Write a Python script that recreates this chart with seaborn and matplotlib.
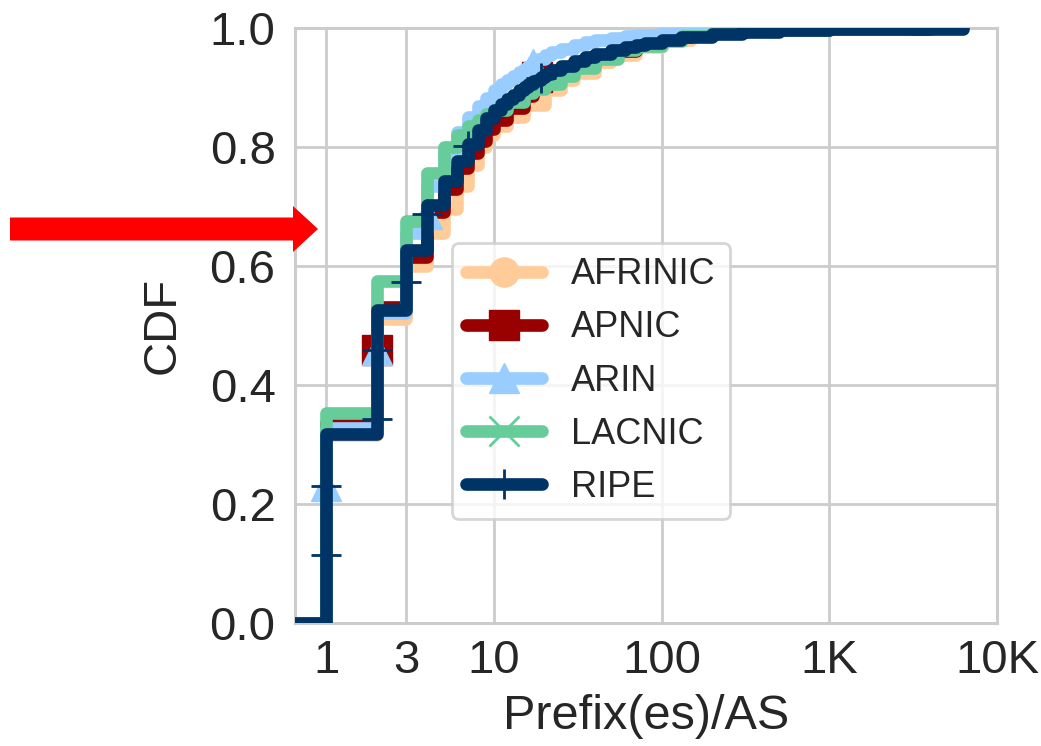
import matplotlib
matplotlib.use("Agg")
import matplotlib.pyplot as plt
from matplotlib.lines import Line2D
from matplotlib.patches import FancyArrow
import seaborn as sns

# Regions (legend order) and their styles
regions = ["AFRINIC", "APNIC", "ARIN", "LACNIC", "RIPE"]
colors = ["#ffcc99", "#990000", "#99ccff", "#66cc99", "#003366"]
markers = ["o", "s", "^", "x", "+"]

# Step CDFs of prefixes per AS: breakpoints (value, cumulative fraction)
afrinic_x = [0.5, 1, 2, 3, 4, 5, 6, 7, 8, 9, 10, 12, 15, 20, 25, 30, 40, 50, 70, 100, 150, 200, 300, 500, 1000, 2000]
afrinic_y = [0, 0.315, 0.51, 0.60, 0.655, 0.695, 0.735, 0.77, 0.80, 0.82, 0.835, 0.85, 0.87, 0.895, 0.912,
             0.925, 0.942, 0.955, 0.968, 0.98, 0.988, 0.992, 0.995, 0.997, 0.999, 1.0]

apnic_x = [0.5, 1, 2, 3, 4, 5, 6, 7, 8, 9, 10, 12, 15, 17, 18, 20, 25, 30, 40, 50, 70, 100, 150, 200, 300, 500,
           1000, 4000]
apnic_y = [0, 0.335, 0.53, 0.615, 0.69, 0.73, 0.765, 0.79, 0.81, 0.83, 0.845, 0.865, 0.885, 0.90, 0.92, 0.925,
           0.933, 0.94, 0.952, 0.962, 0.974, 0.985, 0.99, 0.993, 0.995, 0.997, 0.999, 1.0]

arin_x = [0.5, 1, 2, 3, 4, 5, 6, 7, 8, 9, 10, 11, 12, 13, 14, 15, 16, 17, 18, 20, 22, 25, 30, 35, 40, 50, 60, 70,
          100, 150, 200, 300, 500, 1000, 2000, 5000]
arin_y = [0, 0.328, 0.52, 0.655, 0.735, 0.79, 0.825, 0.85, 0.868, 0.883, 0.895, 0.905, 0.913, 0.92, 0.926, 0.931,
          0.936, 0.944, 0.948, 0.955, 0.96, 0.965, 0.972, 0.976, 0.979, 0.983, 0.986, 0.988, 0.992, 0.994, 0.996,
          0.997, 0.998, 0.999, 0.9995, 1.0]

lacnic_x = [0.5, 1, 2, 3, 4, 5, 6, 7, 8, 9, 10, 12, 15, 17, 20, 25, 30, 40, 55, 70, 100, 133, 200, 300, 500, 1000, 3000]
lacnic_y = [0, 0.353, 0.575, 0.675, 0.756, 0.80, 0.82, 0.835, 0.845, 0.855, 0.862, 0.875, 0.89, 0.897, 0.905, 0.92,
            0.933, 0.948, 0.963, 0.97, 0.978, 0.986, 0.991, 0.995, 0.997, 0.999, 1.0]

ripe_x = [0.5, 1, 2, 3, 4, 5, 6, 7, 8, 9, 10, 11, 12, 13, 14, 15, 16, 17, 18, 19, 20, 22, 25, 30, 35, 40, 50, 60,
          70, 80, 100, 130, 200, 300, 500, 1000, 2000, 6300]
ripe_y = [0, 0.318, 0.525, 0.627, 0.703, 0.743, 0.776, 0.805, 0.828, 0.848, 0.862, 0.872, 0.880, 0.888, 0.895,
          0.900, 0.905, 0.910, 0.913, 0.918, 0.923, 0.930, 0.936, 0.945, 0.951, 0.956, 0.963, 0.968, 0.972, 0.975,
          0.980, 0.985, 0.990, 0.994, 0.996, 0.998, 0.999, 1.0]

# Marker positions along each curve
afrinic_mx, afrinic_my = [], []
apnic_mx, apnic_my = [2, 18], [0.459, 0.918]
arin_mx, arin_my = [1, 2, 4, 17], [0.229, 0.459, 0.688, 0.94]
lacnic_mx, lacnic_my = [], []
ripe_mx = [1, 1, 2, 2, 3, 4, 7, 19]
ripe_my = [0.114, 0.229, 0.343, 0.459, 0.573, 0.688, 0.802, 0.916]

x_ticks = [1, 3, 10, 100, 1000, 10000]
x_ticklabels = ["1", "3", "10", "100", "1K", "10K"]
y_ticks = [0.0, 0.2, 0.4, 0.6, 0.8, 1.0]

curves = [
    (afrinic_x, afrinic_y, afrinic_mx, afrinic_my),
    (apnic_x, apnic_y, apnic_mx, apnic_my),
    (arin_x, arin_y, arin_mx, arin_my),
    (lacnic_x, lacnic_y, lacnic_mx, lacnic_my),
    (ripe_x, ripe_y, ripe_mx, ripe_my),
]

sns.set_theme(style="whitegrid")
plt.rcParams["font.family"] = ["Liberation Sans", "DejaVu Sans"]
text_color = "#262626"
grid_color = "#cccccc"

LW = 9.1
MS = 21

fig = plt.figure(figsize=(10.41, 7.46), dpi=100)
ax = fig.add_axes([0.2834, 0.1653, 0.6744, 0.7972])

for i, (name, color, mk, (xs, ys, mx, my)) in enumerate(zip(regions, colors, markers, curves)):
    z = 3 + i
    sns.lineplot(x=xs, y=ys, ax=ax, color=color, linewidth=LW, drawstyle="steps-post",
                 estimator=None, sort=False, solid_joinstyle="round", solid_capstyle="round",
                 zorder=z)
    if mx:
        mew = 2.0 if mk in ("+", "x") else 1.0
        ax.plot(mx, my, linestyle="none", marker=mk, markersize=MS, color=color,
                markeredgewidth=mew, zorder=z + 0.5)

ax.set_xscale("log")
ax.set_xlim(0.65, 9800)
ax.set_ylim(0, 1.0)
ax.set_xticks(x_ticks)
ax.set_xticklabels(x_ticklabels)
ax.xaxis.set_minor_locator(matplotlib.ticker.NullLocator())
ax.set_yticks(y_ticks)
ax.set_yticklabels([f"{v:.1f}" for v in y_ticks])
ax.tick_params(axis="both", labelsize=34, colors=text_color, length=0)
ax.tick_params(axis="x", pad=12)
ax.tick_params(axis="y", pad=14)

ax.grid(True, color=grid_color, linewidth=2.0)
ax.set_axisbelow(True)
for sp in ax.spines.values():
    sp.set_color(grid_color)
    sp.set_linewidth(2.2)

ax.set_xlabel("Prefix(es)/AS", fontsize=35, color=text_color, labelpad=8)
ax.set_ylabel("CDF", fontsize=34, color=text_color, labelpad=18)

handles = []
for color, mk in zip(colors, markers):
    mew = 2.0 if mk in ("+", "x") else 1.0
    handles.append(Line2D([], [], color=color, linewidth=LW, marker=mk, markersize=MS,
                          markeredgewidth=mew, solid_capstyle="round"))
leg = ax.legend(handles, regions, loc="upper left", bbox_to_anchor=(0.2236, 0.6385),
                borderaxespad=0, fontsize=26, handlelength=2.1, handletextpad=0.8,
                labelspacing=0.5, borderpad=0.4, frameon=True, fancybox=True)
leg.get_frame().set_edgecolor(grid_color)
leg.get_frame().set_linewidth(2.0)
for t in leg.get_texts():
    t.set_color(text_color)
leg.set_zorder(20)

# Red pointer arrow at the left of the axes
arrow = FancyArrow(0.10, 5.17, 3.08, 0, width=0.23, head_width=0.46, head_length=0.25,
                   length_includes_head=True, color="#ff0000", linewidth=0,
                   transform=fig.dpi_scale_trans)
fig.add_artist(arrow)

fig.savefig("out.png", dpi=100)
